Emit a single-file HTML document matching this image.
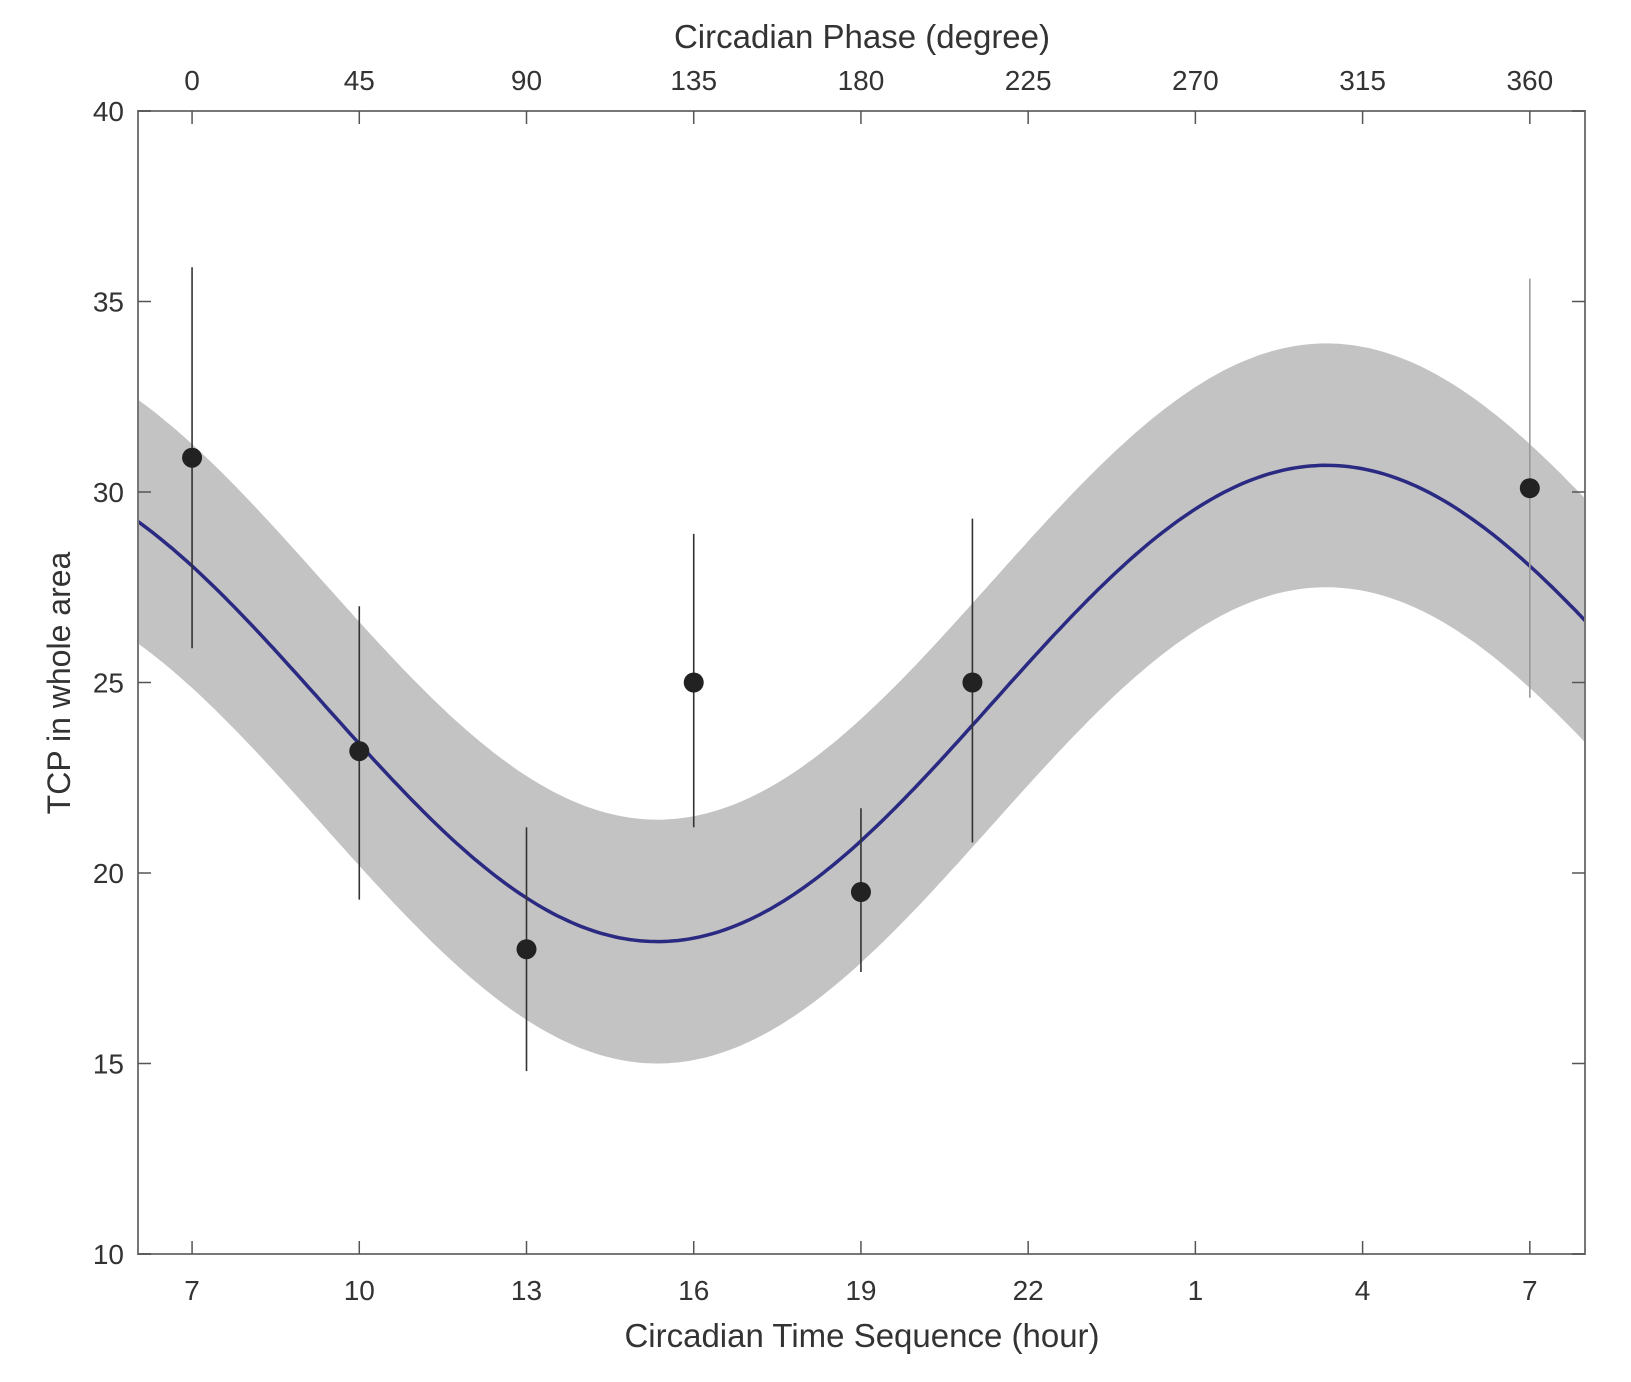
<!DOCTYPE html>
<html><head><meta charset="utf-8"><style>
html,body{margin:0;padding:0;background:#fff;}
svg{display:block;font-family:"Liberation Sans",Arial,sans-serif;}
</style></head><body>
<svg id="chart" width="1631" height="1382" viewBox="0 0 1631 1382" xmlns="http://www.w3.org/2000/svg">
<rect width="1631" height="1382" fill="#fff"/>
<g id="band"></g>
<g id="curve"></g>
<g id="points"></g>
<g id="axes"></g>
<text x="862" y="48" font-size="33" text-anchor="middle" fill="#333">Circadian Phase (degree)</text>
<text x="862" y="1347" font-size="33" text-anchor="middle" fill="#333">Circadian Time Sequence (hour)</text>
<text x="0" y="0" font-size="32" text-anchor="middle" fill="#333" transform="translate(70,683) rotate(-90)">TCP in whole area</text>
</svg>
<script>
// data
const hourOffsets = [0, 3, 6, 9, 12, 14, 24];
const meanValues = [30.9, 23.2, 18.0, 25.0, 19.5, 25.0, 30.1];
const errLow = [25.9, 19.3, 14.8, 21.2, 17.4, 20.8, 24.6];
const errHigh = [35.9, 27.0, 21.2, 28.9, 21.7, 29.3, 35.6];
const mesor = [24.45];
const amplitude = [6.25];
const acrophaseHour = [20.35];
const bandHalfWidth = [3.2];
const bottomTickLabels = ["7","10","13","16","19","22","1","4","7"];
const topTickLabels = ["0","45","90","135","180","225","270","315","360"];
const yTicks = [10, 15, 20, 25, 30, 35, 40];

const L=138, R=1585, T=111, B=1254;
const xMin=-0.97, xMax=24.99, yMin=10, yMax=40;
const xs = h => L + (h - xMin) / (xMax - xMin) * (R - L);
const ys = v => B - (v - yMin) / (yMax - yMin) * (B - T);
const NS = "http://www.w3.org/2000/svg";
function mk(tag, attrs, parent){const e=document.createElementNS(NS,tag);for(const k in attrs)e.setAttribute(k,attrs[k]);parent.appendChild(e);return e;}
const fit = h => mesor[0] + amplitude[0]*Math.cos(2*Math.PI*(h-acrophaseHour[0])/24);

// band
const band=document.getElementById('band');
let up=[],lo=[];
for(let i=0;i<=300;i++){const h=xMin+(xMax-xMin)*i/300;up.push(xs(h).toFixed(1)+','+ys(fit(h)+bandHalfWidth[0]).toFixed(1));lo.push(xs(h).toFixed(1)+','+ys(fit(h)-bandHalfWidth[0]).toFixed(1));}
const bp=mk('polygon',{points:up.concat(lo.reverse()).join(' '),fill:'#c3c3c3'},band);



// curve
let cp=[];
for(let i=0;i<=300;i++){const h=xMin+(xMax-xMin)*i/300;cp.push(xs(h).toFixed(1)+','+ys(fit(h)).toFixed(1));}
const cl=mk('polyline',{points:cp.join(' '),fill:'none',stroke:'#2a2a82','stroke-width':3.5},document.getElementById('curve'));



// points
const pg=document.getElementById('points');
hourOffsets.forEach((h,i)=>{
  const last=i===hourOffsets.length-1;
  const eb=mk('line',{x1:xs(h),x2:xs(h),y1:ys(errLow[i]),y2:ys(errHigh[i]),stroke:last?'#9a9a9a':'#333','stroke-width':1.6},pg);
  
  
  const c=mk('circle',{cx:xs(h),cy:ys(meanValues[i]),r:10,fill:'#222'},pg);
  
  
});

// axes
const ax=document.getElementById('axes');
const fr=mk('rect',{x:L,y:T,width:R-L,height:B-T,fill:'none',stroke:'#777','stroke-width':2},ax);


bottomTickLabels.forEach((lab,i)=>{
  const x=xs(i*3);
  mk('line',{x1:x,x2:x,y1:B,y2:B-13,stroke:'#555','stroke-width':1.5},ax);
  mk('line',{x1:x,x2:x,y1:T,y2:T+13,stroke:'#555','stroke-width':1.5},ax);
  const t=mk('text',{x:x,y:1300,'font-size':28,'text-anchor':'middle',fill:'#333'},ax);
  t.textContent=lab;
  
  
  const t2=mk('text',{x:x,y:90,'font-size':28,'text-anchor':'middle',fill:'#333'},ax);
  t2.textContent=topTickLabels[i];
  
  
});
yTicks.forEach(v=>{
  const y=ys(v);
  mk('line',{x1:L,x2:L+13,y1:y,y2:y,stroke:'#555','stroke-width':1.5},ax);
  mk('line',{x1:R,x2:R-13,y1:y,y2:y,stroke:'#555','stroke-width':1.5},ax);
  const t=mk('text',{x:124,y:y+10,'font-size':28,'text-anchor':'end',fill:'#333'},ax);
  t.textContent=v;
  
  
});
</script>
</body></html>
